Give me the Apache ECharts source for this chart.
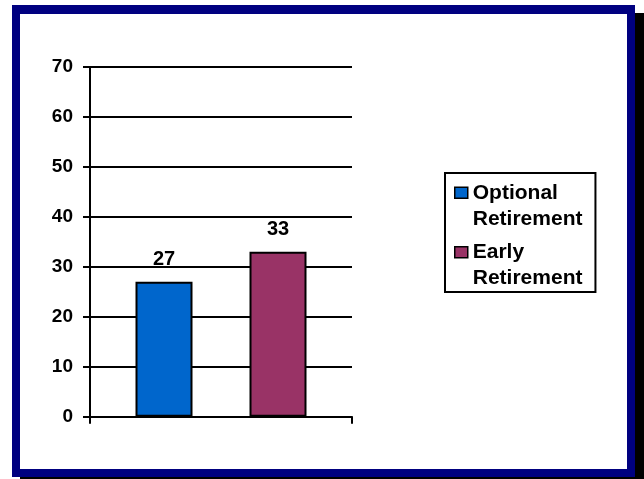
<!DOCTYPE html>
<html>
<head>
<meta charset="utf-8">
<script src="https://cdn.jsdelivr.net/npm/echarts@6/dist/echarts.min.js"></script>
<style>
html,body{margin:0;padding:0;background:#fff;}
#c{width:644px;height:479px;}
</style>
</head>
<body>
<div id="c"></div>
<script>
var categories = [''];
var seriesNames = ['Optional\nRetirement', 'Early\nRetirement'];
var optionalValues = [27];
var earlyValues = [33];
var seriesColors = ['#0066CC', '#993366'];
var yMin = 0, yMax = 70, yStep = 10;

var FONT = '"Liberation Sans", Arial, sans-serif';
var iconPath = 'path://M0,0 M13,52 M0,7.5 L13,7.5 L13,18.5 L0,18.5 Z';

var chart = echarts.init(document.getElementById('c'), null, {renderer: 'canvas'});
var option = {
  animation: false,
  backgroundColor: '#ffffff',
  graphic: [
    {type: 'rect', z: -30, shape: {x: 20, y: 13, width: 624, height: 472}, style: {fill: '#000000'}, silent: true},
    {type: 'rect', z: -20, shape: {x: 12, y: 5, width: 623, height: 472}, style: {fill: '#000080'}, silent: true},
    {type: 'rect', z: -10, shape: {x: 20, y: 14, width: 607, height: 455}, style: {fill: '#ffffff'}, silent: true}
  ],
  grid: {left: 90, right: 292, top: 67, bottom: 62.3, containLabel: false},
  legend: {
    orient: 'vertical',
    left: 445,
    top: 173,
    padding: [6, 13, 0, 9],
    itemGap: 6,
    itemWidth: 13,
    itemHeight: 52,
    borderColor: '#000',
    borderWidth: 2,
    borderRadius: 0,
    icon: iconPath,
    itemStyle: {borderColor: '#000', borderWidth: 1.5},
    textStyle: {fontFamily: FONT, fontWeight: 'bold', fontSize: 21, lineHeight: 26, color: '#000'},
    data: seriesNames
  },
  xAxis: {
    type: 'category',
    data: categories,
    axisLine: {lineStyle: {color: '#000', width: 2}},
    axisTick: {show: true, length: 7, lineStyle: {color: '#000', width: 2}},
    axisLabel: {show: false}
  },
  yAxis: {
    type: 'value',
    min: yMin, max: yMax, interval: yStep,
    axisLine: {show: true, lineStyle: {color: '#000', width: 2}},
    axisTick: {show: true, length: 7, lineStyle: {color: '#000', width: 2}},
    axisLabel: {margin: 17, color: '#000', fontFamily: FONT, fontWeight: 'bold', fontSize: 19},
    splitLine: {show: true, lineStyle: {color: '#000', width: 2}}
  },
  series: [
    {
      name: seriesNames[0], type: 'bar', data: optionalValues,
      barWidth: 57, barGap: '100%',
      itemStyle: {color: seriesColors[0], borderColor: '#000', borderWidth: 2},
      label: {show: true, position: 'top', distance: 12, color: '#000', fontFamily: FONT, fontWeight: 'bold', fontSize: 20}
    },
    {
      name: seriesNames[1], type: 'bar', data: earlyValues,
      barWidth: 57, barGap: '100%',
      itemStyle: {color: seriesColors[1], borderColor: '#000', borderWidth: 2},
      label: {show: true, position: 'top', distance: 12, color: '#000', fontFamily: FONT, fontWeight: 'bold', fontSize: 20}
    }
  ]
};
chart.setOption(option);
</script>
</body>
</html>
